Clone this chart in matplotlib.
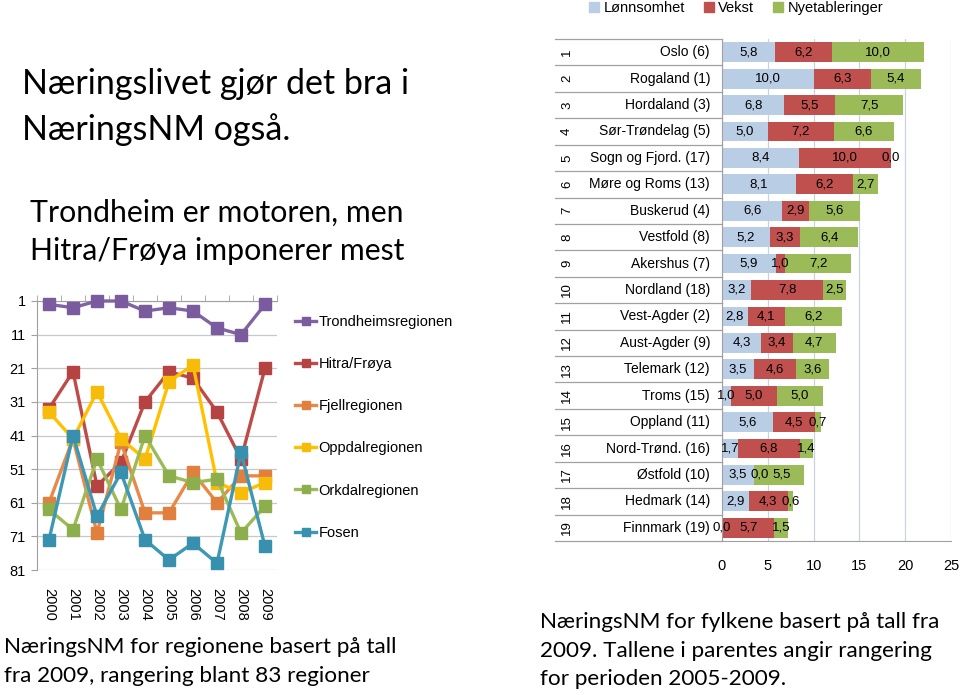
import matplotlib
matplotlib.use("Agg")
import matplotlib.pyplot as plt
from matplotlib.patches import Patch
import numpy as np

W, H = 960, 695

# ---- left chart: rankings of regions (lower = better) ----
years = ["2000", "2001", "2002", "2003", "2004", "2005", "2006", "2007", "2008", "2009"]
region_names = ["Trondheimsregionen", "Hitra/Frøya", "Fjellregionen",
                "Oppdalregionen", "Orkdalregionen", "Fosen"]
trondheim = [2, 3, 1, 1, 4, 3, 4, 9, 11, 2]
hitra = [33, 22, 56, 49, 31, 22, 24, 34, 48, 21]
fjell = [61, 42, 70, 43, 64, 64, 52, 61, 53, 53]
oppdal = [34, 42, 28, 42, 48, 25, 20, 55, 58, 55]
orkdal = [63, 69, 48, 63, 41, 53, 55, 54, 70, 62]
fosen = [72, 41, 65, 52, 72, 78, 73, 79, 46, 74]
rank_ticks = [1, 11, 21, 31, 41, 51, 61, 71, 81]

# ---- right chart: counties ----
counties = ["Oslo (6)", "Rogaland (1)", "Hordaland (3)", "Sør-Trøndelag (5)",
            "Sogn og Fjord. (17)", "Møre og Roms (13)", "Buskerud (4)", "Vestfold (8)",
            "Akershus (7)", "Nordland (18)", "Vest-Agder (2)", "Aust-Agder (9)",
            "Telemark (12)", "Troms (15)", "Oppland (11)", "Nord-Trønd. (16)",
            "Østfold (10)", "Hedmark (14)", "Finnmark (19)"]
lonnsomhet = [5.8, 10.0, 6.8, 5.0, 8.4, 8.1, 6.6, 5.2, 5.9, 3.2, 2.8, 4.3, 3.5, 1.0, 5.6, 1.7, 3.5, 2.9, 0.0]
vekst = [6.2, 6.3, 5.5, 7.2, 10.0, 6.2, 2.9, 3.3, 1.0, 7.8, 4.1, 3.4, 4.6, 5.0, 4.5, 6.8, 0.0, 4.3, 5.7]
nyetableringer = [10.0, 5.4, 7.5, 6.6, 0.0, 2.7, 5.6, 6.4, 7.2, 2.5, 6.2, 4.7, 3.6, 5.0, 0.7, 1.4, 5.5, 0.6, 1.5]
series_names = ["Lønnsomhet", "Vekst", "Nyetableringer"]
bar_ticks = [0, 5, 10, 15, 20, 25]

line_colors = ["#8064A2", "#BE4B48", "#E8894A", "#FFC000", "#9BBB59", "#3D98B6"]
marker_colors = ["#7A5C9E", "#B54341", "#E07F3E", "#F7BB0A", "#8DAE4C", "#3690AE"]
bar_colors = ["#B9CDE5", "#C0504D", "#9BBB59"]

chart_font = "Liberation Sans"
text_font = "Lato"


def px_axes(fig, x0, y0, x1, y1):
    return fig.add_axes([x0 / W, 1 - y1 / H, (x1 - x0) / W, (y1 - y0) / H])


def fmt(v):
    return f"{v:.1f}".replace(".", ",")


fig = plt.figure(figsize=(W / 100, H / 100), dpi=100)
plt.rcParams["font.family"] = chart_font

# ---------------- line chart ----------------
ax = px_axes(fig, 37, 301, 277, 570)
x = np.arange(len(years))
handles = []
for vals, name, lc, mc in zip([trondheim, hitra, fjell, oppdal, orkdal, fosen],
                              region_names, line_colors, marker_colors):
    h, = ax.plot(x, vals, color=lc, lw=2.4, marker="s", ms=8.5,
                 mfc=mc, mec=mc, clip_on=False, zorder=3, label=name)
    handles.append(h)

ax.set_xlim(-0.5, 9.5)
ax.set_ylim(81, 1)
ax.set_yticks(rank_ticks)
ax.yaxis.grid(True, color="#C8C8C8", lw=0.9)
ax.set_axisbelow(True)
for s in ["right", "bottom"]:
    ax.spines[s].set_visible(False)
ax.spines["left"].set_color("#A0A0A0")
ax.spines["top"].set_color("#A0A0A0")
ax.tick_params(axis="y", length=4, color="#A0A0A0", labelsize=10.5, pad=4)
ax.set_xticks(x)
ax.set_xticklabels(years, rotation=-90, fontsize=10.5, va="top")
ax.tick_params(axis="x", which="major", length=0, pad=13)
ax.set_xticks(np.arange(-0.5, 10, 1), minor=True)
ax.tick_params(axis="x", which="minor", top=True, bottom=False, length=4,
               color="#A0A0A0", direction="out")

fig.legend(handles=handles, loc="upper left", bbox_to_anchor=(295 / W, 1 - 315 / H),
           frameon=False, labelspacing=1.93, handlelength=1.45,
           handletextpad=0.15, borderpad=0, borderaxespad=0,
           prop={"family": chart_font, "size": 10.5})
for lh in fig.legends[0].legend_handles:
    lh.set_markersize(6)

# ---------------- bar chart ----------------
bx = px_axes(fig, 722, 39, 951, 541)
y = np.arange(len(counties))
stack = np.array([lonnsomhet, vekst, nyetableringer])
left = np.zeros(len(counties))
bar_handles = []
for vals, name, col in zip(stack, series_names, bar_colors):
    bx.barh(y, vals, left=left, height=0.75, color=col, label=name, zorder=2)
    bar_handles.append(Patch(color=col))
    left = left + vals

# data labels, centred in each segment, nudged right if they would collide
min_gap = 2.4  # in data units, roughly one label width
starts = np.vstack([np.zeros(len(counties)), np.cumsum(stack, axis=0)[:-1]])
for i in range(len(counties)):
    prev = -np.inf
    for k in range(3):
        c = starts[k, i] + stack[k, i] / 2
        if c - prev < min_gap:
            c = prev + min_gap
        bx.text(c, i, fmt(stack[k, i]), ha="center", va="center", fontsize=9.5, zorder=4)
        prev = c

bx.set_xlim(0, 25)
bx.set_ylim(len(counties) - 0.5, -0.5)
bx.set_xticks(bar_ticks)
bx.xaxis.grid(True, color="#C9D3DE", lw=0.9)
bx.set_axisbelow(True)
bx.tick_params(axis="x", length=0, pad=13, labelsize=10.5)
bx.set_yticks([])
for s in ["top", "right"]:
    bx.spines[s].set_visible(False)
bx.spines["left"].set_color("#A0A0A0")
bx.spines["bottom"].set_color("#A0A0A0")

# category table on the left of the bars
tr = bx.get_yaxis_transform()
x_tab = (555 - 722) / (951 - 722)
for b in np.arange(-0.5, len(counties), 1):
    bx.plot([x_tab, 0], [b, b], transform=tr, color="#A0A0A0", lw=0.9, clip_on=False)
for i, name in enumerate(counties):
    bx.text((710 - 722) / 229, i, name, transform=tr, ha="right", va="center", fontsize=10)
    bx.text((567 - 722) / 229, i, str(i + 1), transform=tr, ha="center", va="center",
            fontsize=9.5, rotation=90)

fig.legend(bar_handles, series_names, loc="upper center", ncol=3,
           bbox_to_anchor=(736 / W, 1.0), frameon=False, fontsize=10.5,
           handlelength=0.7, handleheight=0.7, handletextpad=0.3, columnspacing=1.3,
           borderpad=0.1, borderaxespad=0)

# ---------------- text blocks ----------------
def ptext(xp, yp, s, size):
    fig.text(xp / W, 1 - yp / H, s, fontsize=size, family=text_font, va="baseline", ha="left")

ptext(22, 94, "Næringslivet gjør det bra i", 24.5)
ptext(22, 140, "NæringsNM også.", 24.5)
ptext(30, 222, "Trondheim er motoren, men", 21.8)
ptext(30, 260, "Hitra/Frøya imponerer mest", 21.8)
ptext(4, 653, "NæringsNM for regionene basert på tall", 16.2)
ptext(4, 682, "fra 2009, rangering blant 83 regioner", 16.2)
ptext(540, 628, "NæringsNM for fylkene basert på tall fra", 16.2)
ptext(540, 657, "2009. Tallene i parentes angir rangering", 16.2)
ptext(540, 685, "for perioden 2005-2009.", 16.2)

fig.savefig("out.png", dpi=100, facecolor="white")
